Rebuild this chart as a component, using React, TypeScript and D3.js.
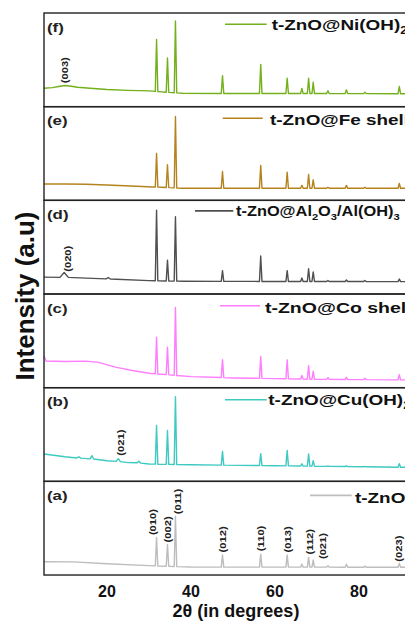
import React from 'react';
import * as d3 from 'd3';

// ---------- data ----------
const X_TICKS = [20, 40, 60, 80];
const PEAK_POS = [31.8, 34.4, 36.3, 47.5, 56.6, 62.9, 66.4, 68.0, 69.1, 72.6, 77.0, 81.4, 89.6];

const SAMPLE_NAMES = ['t-ZnO@Ni(OH)2', 't-ZnO@Fe shell', 't-ZnO@Al2O3/Al(OH)3', 't-ZnO@Co shell', 't-ZnO@Cu(OH)2', 't-ZnO'];
const PANEL_TAGS = ['(f)', '(e)', '(d)', '(c)', '(b)', '(a)'];
const COLORS = ['#72b01c', '#b5831e', '#505050', '#ff7dff', '#3ec9c1', '#bdbdbd'];

// peak tops (panel units 0-100) at PEAK_POS
const NI_PEAKS = [71.7, 52, 91.4, 33, 45, 30.4, 19.4, 30.4, 26, 17, 18, 15.5, 21.5];
const FE_PEAKS = [50, 38, 89.6, 30.8, 37.3, 30, 16, 27.6, 21.9, 14, 16, 14, 18];
const AL_PEAKS = [89.6, 36, 82.5, 25, 40.5, 25, 17, 27, 23.6, 14.5, 15, 14.5, 16];
const CO_PEAKS = [54, 43.3, 85.7, 30, 33.3, 29.7, 13, 23.6, 17.5, 10.7, 11, 10, 14];
const CU_PEAKS = [59.7, 54.3, 90.5, 32, 29.6, 33, 18.8, 29.2, 22, 16.5, 16.7, 16, 18.8];
const ZNO_PEAKS = [40, 32.6, 62.8, 21.3, 22.3, 21.3, 11.7, 18.8, 16, 10, 11.4, 9.5, 12.4];

// background readings [2θ, value]
const NI_BASE = [[5, 19.7], [7, 20.3], [8.5, 21.5], [10, 22.6], [11.5, 21.8], [13, 20.8], [16, 19.6], [20, 18.3], [25, 17.4], [30, 16.9], [33, 15.8], [38, 14.3], [50, 14], [70, 14], [95, 13.8]];
const FE_BASE = [[5, 17.5], [10, 17.4], [15, 17.2], [20, 16.3], [27, 15], [31, 14.3], [33, 14], [38, 12.9], [95, 12.9]];
const AL_BASE = [[5, 18], [8.8, 17.8], [9.8, 23], [10.8, 17.8], [15, 17], [19.8, 16.2], [20.3, 17.6], [20.8, 16], [30, 14.3], [38, 13.6], [60, 13.4], [95, 13.2]];
const CO_BASE = [[5, 34], [5.5, 28.5], [10, 28], [15, 28.3], [18, 27], [22, 22], [26, 18.3], [30, 15.4], [40, 11.8], [50, 10.4], [70, 8.9], [95, 8.2]];
const CU_BASE = [[5, 29.2], [10, 26.3], [12.8, 25], [13.3, 26.2], [13.8, 24.8], [16, 24], [16.4, 27.4], [16.8, 23.8], [20, 22], [22.2, 21.3], [22.7, 24.2], [23.2, 21], [25, 20], [27.2, 19.8], [27.6, 21.5], [28, 19.5], [30, 18.5], [40, 17.7], [60, 16.7], [95, 14.8]];
const ZNO_BASE = [[5, 14.2], [12, 14], [20, 12.1], [30, 10], [40, 8.5], [95, 8.3]];

const PEAKS = [NI_PEAKS, FE_PEAKS, AL_PEAKS, CO_PEAKS, CU_PEAKS, ZNO_PEAKS];
const BASES = [NI_BASE, FE_BASE, AL_BASE, CO_BASE, CU_BASE, ZNO_BASE];

// reflection labels
const ZNO_LABELS = ['(010)', '(002)', '(011)', '(012)', '(110)', '(013)', '(112)', '(021)', '(023)'];
const ZNO_LABEL_X = [31.0, 34.45, 36.8, 47.55, 56.6, 63.2, 68.3, 71.5, 89.5];
const ZNO_LABEL_Y = [42.6, 34.8, 64.9, 24.1, 25.5, 24.1, 22, 17, 14.3];
const EXTRA_LABELS: [number, string, number, number][] = [
  [0, '(003)', 10.0, 25],
  [2, '(020)', 10.8, 23.7],
  [4, '(021)', 23.3, 27.4],
];

// ---------- layout ----------
const W = 405, H = 621;
const LEFT = 44, PX_PER_DEG = 4.2;
const PANEL_TOP = 13, PANEL_H = 93.67;
const FONT = '"Liberation Sans", Arial, sans-serif';
const LEGEND = [
  { x1: 225, x2: 266.7, tx: 271.7, ly: 11.3, ty: 17.2, fs: 15, sx: 1.26 },
  { x1: 222.7, x2: 262.7, tx: 270, ly: 11.6, ty: 18.2, fs: 15, sx: 1.26 },
  { x1: 195, x2: 233.3, tx: 236, ly: 10.5, ty: 16, fs: 14, sx: 1.17 },
  { x1: 220, x2: 260, tx: 265, ly: 11.7, ty: 18.5, fs: 15, sx: 1.3 },
  { x1: 225, x2: 266.7, tx: 268.3, ly: 12, ty: 17.7, fs: 15, sx: 1.26 },
  { x1: 310, x2: 351.7, tx: 355, ly: 14, ty: 22, fs: 15, sx: 1.26 },
];

const x = d3.scaleLinear().domain([5, 95]).range([LEFT, LEFT + 90 * PX_PER_DEG]);

function buildPoints(base: number[][], peaks: number[]) {
  const foot = d3.scaleLinear().domain(base.map(d => d[0])).range(base.map(d => d[1]));
  const hw = 0.3;
  const pts: [number, number][] = base
    .filter(d => !PEAK_POS.some(p => Math.abs(d[0] - p) < hw + 0.05))
    .map(d => [d[0], d[1]] as [number, number]);
  PEAK_POS.forEach((p, i) => {
    pts.push([p - hw, foot(p - hw)]);
    pts.push([p, peaks[i]]);
    pts.push([p + hw, foot(p + hw)]);
  });
  pts.sort((a, b) => a[0] - b[0]);
  return pts;
}

function Name({ name, fs }: { name: string; fs: number }) {
  const parts = name.split(/(\d+)/).filter(s => s.length > 0);
  let sub = false;
  return (
    <>
      {parts.map((s, i) => {
        const isSub = /^\d+$/.test(s);
        let dy = 0;
        if (isSub && !sub) dy = 4;
        if (!isSub && sub) dy = -4;
        sub = isSub;
        return (
          <tspan key={i} dy={dy} fontSize={isSub ? fs * 0.68 : fs}>{s}</tspan>
        );
      })}
    </>
  );
}

function RotLabel({ px, py, text }: { px: number; py: number; text: string }) {
  return (
    <text
      transform={`translate(${px},${py}) rotate(-90) scale(1.3,1)`}
      dy="0.35em"
      fontFamily={FONT}
      fontWeight="bold"
      fontSize={8.6}
      fill="#222"
    >
      {text}
    </text>
  );
}

export default function App() {
  return (
    <svg width={W} height={H} style={{ position: 'absolute', left: 0, top: 0, background: '#fff' }}>
      <rect x={0} y={0} width={W} height={H} fill="#fff" />
      {SAMPLE_NAMES.map((name, i) => {
        const top = PANEL_TOP + i * PANEL_H;
        const bottom = top + PANEL_H;
        const y = d3.scaleLinear().domain([0, 100]).range([bottom, top]);
        const pts = buildPoints(BASES[i], PEAKS[i]);
        const line = d3.line<[number, number]>().x(d => x(d[0])).y(d => y(d[1]));
        const lg = LEGEND[i];
        return (
          <g key={name}>
            <path d={line(pts) || ''} fill="none" stroke={COLORS[i]} strokeWidth={1.4} strokeLinejoin="round" />
            <rect x={LEFT} y={top} width={90 * PX_PER_DEG} height={PANEL_H} fill="none" stroke="#222" strokeWidth={1.4} />
            <text transform={`translate(47,${top + 18.5}) scale(1.25,1)`} fontFamily={FONT} fontWeight="bold" fontSize={13.5} fill="#222">
              {PANEL_TAGS[i]}
            </text>
            <line x1={lg.x1} x2={lg.x2} y1={top + lg.ly} y2={top + lg.ly} stroke={COLORS[i]} strokeWidth={1.6} />
            <text transform={`translate(${lg.tx},${top + lg.ty}) scale(${lg.sx},1)`} fontFamily={FONT} fontWeight="bold" fontSize={lg.fs} fill="#111">
              <Name name={name} fs={lg.fs} />
            </text>
            {EXTRA_LABELS.filter(l => l[0] === i).map(l => (
              <RotLabel key={l[1]} px={x(l[2])} py={y(l[3])} text={l[1]} />
            ))}
            {i === 5 && ZNO_LABELS.map((t, k) => (
              <RotLabel key={t + k} px={x(ZNO_LABEL_X[k])} py={y(ZNO_LABEL_Y[k])} text={t} />
            ))}
          </g>
        );
      })}
      {X_TICKS.map(t => (
        <text key={t} x={x(t)} y={596.5} textAnchor="middle" fontFamily={FONT} fontWeight="bold" fontSize={16} fill="#111">
          {t}
        </text>
      ))}
      <text x={236} y={617} textAnchor="middle" fontFamily={FONT} fontWeight="bold" fontSize={18} fill="#111">
        2θ (in degrees)
      </text>
      <text transform="translate(33.5,296) rotate(-90)" textAnchor="middle" fontFamily={FONT} fontWeight="bold" fontSize={26} fill="#111">
        Intensity (a.u)
      </text>
    </svg>
  );
}
